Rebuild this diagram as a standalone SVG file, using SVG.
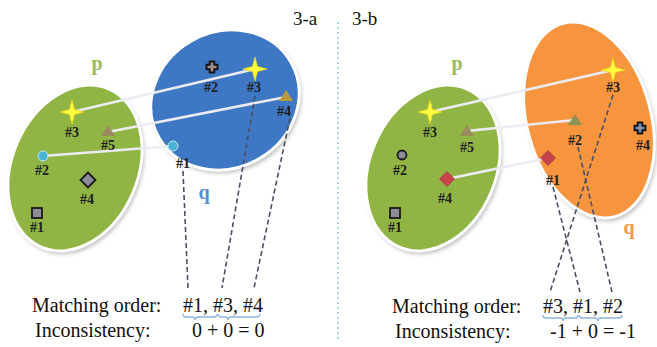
<svg xmlns="http://www.w3.org/2000/svg" xmlns:xlink="http://www.w3.org/1999/xlink" width="657" height="347" viewBox="0 0 657 347">
<style>
text{font-family:"Liberation Serif","Times New Roman",serif}
.lbl{font-size:14px;font-weight:bold;fill:#1e1e1e;text-anchor:middle}
.big{font-size:20px;fill:#111}
.title{font-size:19px;fill:#111}
.pl{font-size:20px;font-weight:bold;fill:#9bbb59;text-anchor:middle}
.conn{stroke:#ebebf3;stroke-width:2.5;fill:none}
.dash{stroke:#4a4f66;stroke-width:1.6;stroke-dasharray:5 3;fill:none}
.brace{stroke:#8db3e2;stroke-width:1.3;fill:none}
.rim{stroke:#ffffff;stroke-width:3}
.star{fill:#ffff40;stroke:#e6d21a;stroke-width:0.8}
.sq{fill:#8c8c96;stroke:#1a1a1a;stroke-width:1.8}
.dia{fill:#8c8c96;stroke:#1a1a1a;stroke-width:1.8}
.cross{fill:#9a8f8a;stroke:#141414;stroke-width:2;stroke-linejoin:round}
</style>
<defs>
<filter id="sh" x="-20%" y="-20%" width="140%" height="140%">
<feGaussianBlur stdDeviation="2"/>
</filter>
<path id="star" d="M-12,0 L-2.5,-2.5 L0,-12 L2.5,-2.5 L12,0 L2.5,2.5 L0,12 L-2.5,2.5Z"/>
<path id="tri" d="M0,-6 L7,5 L-7,5Z"/>
<path id="dia" d="M0,-7.5 L7.5,0 L0,7.5 L-7.5,0Z"/>
<path id="cross" d="M-2.3,-5.5 h4.6 v3.2 h3.2 v4.6 h-3.2 v3.2 h-4.6 v-3.2 h-3.2 v-4.6 h3.2z"/>
</defs>
<rect width="657" height="347" fill="#ffffff"/>

<!-- titles and divider -->
<text class="title" x="293" y="25">3-a</text>
<text class="title" x="352" y="25">3-b</text>
<line x1="338" y1="22" x2="338" y2="340" stroke="#8ec6de" stroke-width="1.5" stroke-dasharray="2 3"/>

<!-- left panel ellipses -->
<g id="p-left">
<ellipse cx="77" cy="171" rx="63" ry="86" transform="rotate(23 77 171)" fill="#9a9a9a" filter="url(#sh)" opacity="0.7"/>
<ellipse class="rim" cx="75" cy="168" rx="63" ry="86" transform="rotate(23 75 168)" fill="#90b545"/>
<text class="pl" x="97" y="70">p</text>
</g>
<g id="q-left">
<ellipse cx="227" cy="103" rx="76" ry="68" transform="rotate(-30 227 103)" fill="#9a9a9a" filter="url(#sh)" opacity="0.7"/>
<ellipse class="rim" cx="225" cy="100" rx="76" ry="68" transform="rotate(-30 225 100)" fill="#3e78c4"/>
<text class="pl" x="204" y="199" style="fill:#4f8fd6">q</text>
</g>

<!-- right panel ellipses -->
<g id="p-right">
<ellipse cx="435" cy="171" rx="63" ry="86" transform="rotate(23 435 171)" fill="#9a9a9a" filter="url(#sh)" opacity="0.7"/>
<ellipse class="rim" cx="433" cy="168" rx="63" ry="86" transform="rotate(23 433 168)" fill="#90b545"/>
<text class="pl" x="457" y="70">p</text>
</g>
<g id="q-right">
<ellipse cx="591" cy="123" rx="62" ry="100" transform="rotate(-15 591 123)" fill="#9a9a9a" filter="url(#sh)" opacity="0.7"/>
<ellipse class="rim" cx="589" cy="120" rx="62" ry="100" transform="rotate(-15 589 120)" fill="#f7953f"/>
<text class="pl" x="629" y="234" style="fill:#f79646">q</text>
</g>

<!-- connectors -->
<g id="connectors">
<line class="conn" x1="72" y1="112" x2="255" y2="69"/>
<line class="conn" x1="108" y1="132" x2="286" y2="97"/>
<line class="conn" x1="43" y1="156" x2="173" y2="146"/>
<line class="dash" x1="183" y1="171" x2="188" y2="288"/>
<line class="dash" x1="255" y1="96" x2="222" y2="288"/>
<line class="dash" x1="290" y1="118" x2="254" y2="288"/>

<line class="conn" x1="430" y1="112" x2="613" y2="70"/>
<line class="conn" x1="467" y1="131" x2="575" y2="120"/>
<line class="conn" x1="447" y1="179" x2="548" y2="158"/>
<line class="dash" x1="613" y1="95" x2="550" y2="292"/>
<line class="dash" x1="553" y1="187" x2="580" y2="292"/>
<line class="dash" x1="578" y1="147" x2="612" y2="292"/>
</g>

<!-- left p points -->
<g id="lp3"><use href="#star" class="star" x="72" y="112"/><text class="lbl" x="72" y="137">#3</text></g>
<g id="lp5"><use href="#tri" x="108" y="131" fill="#9c8a5e"/><text class="lbl" x="108" y="150">#5</text></g>
<g id="lp2"><circle cx="43" cy="156" r="5" fill="#4bb4d6" stroke="#bfe6f2" stroke-width="1"/><text class="lbl" x="42" y="175">#2</text></g>
<g id="lp4"><use href="#dia" class="dia" x="88" y="180"/><text class="lbl" x="87" y="204">#4</text></g>
<g id="lp1"><rect class="sq" x="32" y="208" width="10" height="10"/><text class="lbl" x="37" y="232">#1</text></g>

<!-- left q points -->
<g id="lq2"><use href="#cross" class="cross" x="212" y="67"/><text class="lbl" x="211" y="92">#2</text></g>
<g id="lq3"><use href="#star" class="star" x="255" y="69"/><text class="lbl" x="254" y="92">#3</text></g>
<g id="lq4"><use href="#tri" x="286" y="96" fill="#b89a3e"/><text class="lbl" x="284" y="116">#4</text></g>
<g id="lq1"><circle cx="173" cy="146" r="5" fill="#4bb4d6" stroke="#bfe6f2" stroke-width="1"/><text class="lbl" x="183" y="168">#1</text></g>

<!-- right p points -->
<g id="rp3"><use href="#star" class="star" x="430" y="112"/><text class="lbl" x="430" y="137">#3</text></g>
<g id="rp5"><use href="#tri" x="467" y="131" fill="#9c8a5e"/><text class="lbl" x="467" y="152">#5</text></g>
<g id="rp2"><circle cx="402" cy="155" r="4.5" fill="#8c8c96" stroke="#1a1a1a" stroke-width="1.8"/><text class="lbl" x="400" y="175">#2</text></g>
<g id="rp4"><use href="#dia" x="447" y="179" fill="#c9434a" stroke="#a83a3e" stroke-width="0.8"/><text class="lbl" x="445" y="203">#4</text></g>
<g id="rp1"><rect class="sq" x="390" y="208" width="10" height="10"/><text class="lbl" x="395" y="232">#1</text></g>

<!-- right q points -->
<g id="rq3"><use href="#star" class="star" x="613" y="70"/><text class="lbl" x="613" y="92">#3</text></g>
<g id="rq2"><use href="#tri" x="575" y="120" fill="#8a9257"/><text class="lbl" x="575" y="145">#2</text></g>
<g id="rq4"><use href="#cross" class="cross" x="640" y="128" style="fill:#7b8fb0"/><text class="lbl" x="643" y="150">#4</text></g>
<g id="rq1"><use href="#dia" x="548" y="158" fill="#c9434a" stroke="#a83a3e" stroke-width="0.8"/><text class="lbl" x="553" y="185">#1</text></g>

<!-- bottom text left -->
<g id="text-left">
<text class="big" x="32" y="312">Matching order:</text>
<text class="big" x="183" y="312">#1, #3, #4</text>
<text class="big" x="35" y="337">Inconsistency:</text>
<text class="big" x="192" y="337">0 + 0 = 0</text>
<path class="brace" d="M183,314 Q183,317 186,317 L192,317 Q195,317 195,320 Q195,317 198,317 L214,317 Q217,317 217,314"/>
<path class="brace" d="M218,314 Q218,317 221,317 L225,317 Q228,317 228,320 Q228,317 231,317 L257,317 Q260,317 260,314"/>
</g>

<!-- bottom text right -->
<g id="text-right">
<text class="big" x="392" y="313">Matching order:</text>
<text class="big" x="543" y="313">#3, #1, #2</text>
<text class="big" x="395" y="338">Inconsistency:</text>
<text class="big" x="550" y="338">-1 + 0 = -1</text>
<path class="brace" d="M543,315 Q543,318 546,318 L560,318 Q563,318 563,321 Q563,318 566,318 L575,318 Q578,318 578,315"/>
<path class="brace" d="M579,315 Q579,318 582,318 L595,318 Q598,318 598,321 Q598,318 601,318 L619,318 Q622,318 622,315"/>
</g>
</svg>
